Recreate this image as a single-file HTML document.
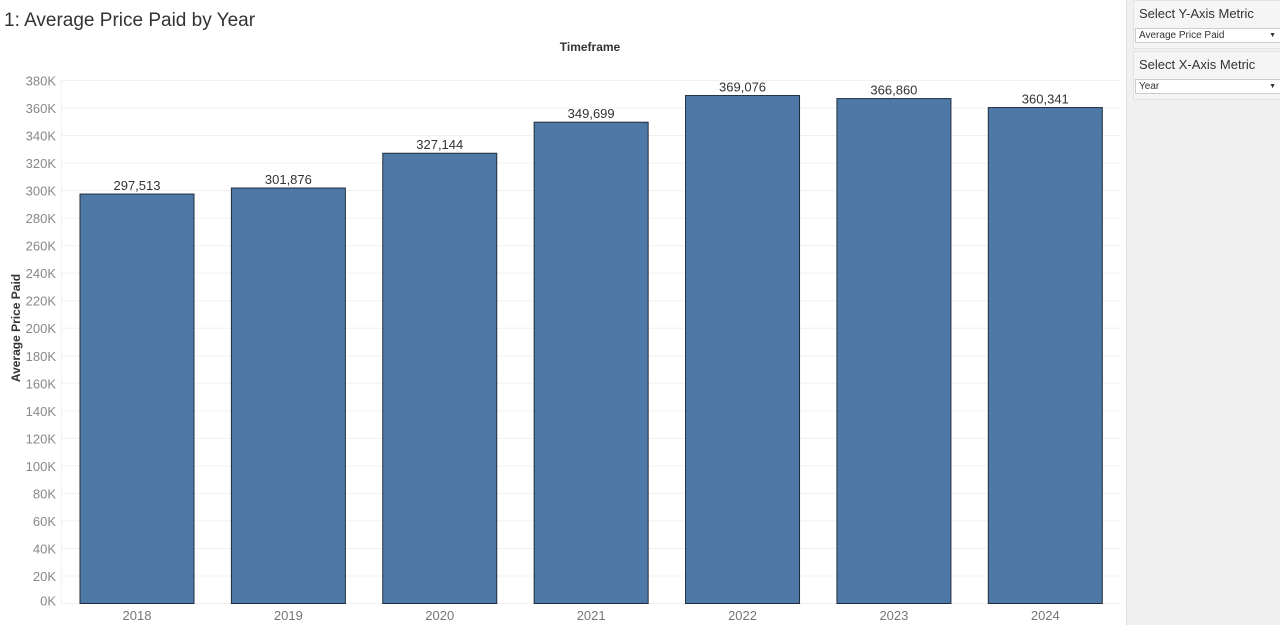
<!DOCTYPE html>
<html><head><meta charset="utf-8"><style>
body{margin:0;width:1280px;height:625px;overflow:hidden;background:#fff;font-family:"Liberation Sans",sans-serif;position:relative}
#title{position:absolute;left:4px;top:10px;font-size:19px;color:#333;font-weight:300;letter-spacing:0}
#panel{position:absolute;left:1126px;top:0;width:154px;height:625px;background:#f0f0f0;border-left:1px solid #e0e0e0}
.box{position:absolute;left:6px;width:148px;height:47px;background:#f5f5f5;border:1px solid #e3e3e3}
.lbl{position:absolute;left:5px;top:5px;font-size:13px;color:#333}
.sel{position:absolute;left:1px;top:27px;width:142px;height:13px;background:#fff;border:1px solid #ccc;font-size:10px;color:#333;line-height:13px;padding-left:3px}
.sel span{position:absolute;right:5px;top:0;font-size:7px}
</style></head><body>
<div id="title">1: Average Price Paid by Year</div>
<svg id="chart" width="1125" height="625" style="position:absolute;left:0;top:0"></svg>
<div id="panel">
 <div class="box" style="top:0"><div class="lbl">Select Y-Axis Metric</div><div class="sel">Average Price Paid<span>▼</span></div></div>
 <div class="box" style="top:51px"><div class="lbl">Select X-Axis Metric</div><div class="sel">Year<span>▼</span></div></div>
</div>
<script>
const categories=["2018","2019","2020","2021","2022","2023","2024"];
const values=[297513,301876,327144,349699,369076,366860,360341];
const yTicks=[0,20000,40000,60000,80000,100000,120000,140000,160000,180000,200000,220000,240000,260000,280000,300000,320000,340000,360000,380000];
const NS="http://www.w3.org/2000/svg";
const svg=document.getElementById('chart');
const L=61.3,R=1121,Y0=603.5,Ymax=80.5,VMAX=380000;
const step=(R-L)/categories.length,bw=114;
const y=v=>Y0-(v/VMAX)*(Y0-Ymax);
const x=i=>L+step*i+step/2;
function mk(t,a,txt){const e=document.createElementNS(NS,t);for(const k in a)e.setAttribute(k,a[k]);if(txt!==undefined)e.textContent=txt;svg.appendChild(e);return e;}
yTicks.forEach(v=>{
 const g=mk('line',{x1:L,x2:R,y1:y(v),y2:y(v),stroke:'#f0f0f0','stroke-width':1});
 
 
 const ty=v===0?y(v)-3:y(v);
 const t=mk('text',{x:56,y:ty+5,'text-anchor':'end','font-size':13,fill:'#888'},(v/1000)+'K');
 
 
});
mk('line',{x1:L,x2:L,y1:Ymax,y2:Y0,stroke:'#eee'});
values.forEach((v,i)=>{
 const r=mk('rect',{x:x(i)-bw/2,y:y(v),width:bw,height:Y0-y(v),fill:'#4e79a7',stroke:'#1f2d3d','stroke-width':1});
 
 
 const l=mk('text',{x:x(i),y:y(v)-4,'text-anchor':'middle','font-size':13,fill:'#333'},v.toLocaleString('en-US'));
 
 
 const c=mk('text',{x:x(i),y:620,'text-anchor':'middle','font-size':13,fill:'#777'},categories[i]);
 
 
});
const xt=mk('text',{x:590,y:51,'text-anchor':'middle','font-size':12,'font-weight':'bold',fill:'#333'},'Timeframe');


const yt=mk('text',{x:0,y:0,'text-anchor':'middle','font-size':12,'font-weight':'bold',fill:'#333',transform:'translate(20,328) rotate(-90)'},'Average Price Paid');


</script>
</body></html>
